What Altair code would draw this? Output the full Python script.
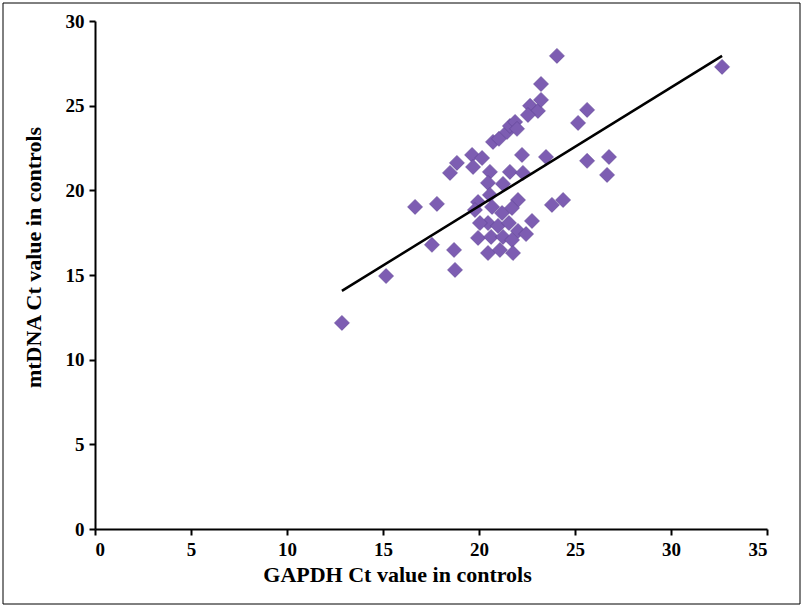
import altair as alt
import pandas as pd

gapdh_ct = [12.86, 15.16, 16.67, 17.81, 17.55, 18.70, 18.75, 18.49, 18.85, 19.64,
            19.69, 20.16, 20.73, 21.04, 21.46, 21.61, 21.88, 21.98, 22.66, 23.07,
            22.55, 23.23, 23.23, 24.06, 25.63, 25.16, 22.24, 23.49, 25.63, 26.77,
            26.67, 20.57, 21.61, 22.29, 20.47, 21.25, 20.57, 19.95, 19.79, 20.68,
            22.03, 23.80, 24.38, 21.20, 21.72, 22.76, 20.47, 20.99, 21.56, 22.03,
            22.45, 19.95, 20.63, 21.25, 21.72, 20.47, 21.09, 21.77, 32.66, 20.05]
mtdna_ct = [12.17, 14.94, 19.02, 19.20, 16.78, 16.48, 15.30, 21.03, 21.62, 22.09,
            21.38, 21.91, 22.86, 23.04, 23.45, 23.80, 24.04, 23.63, 24.99, 24.69,
            24.45, 25.34, 26.28, 27.94, 24.75, 23.98, 22.09, 21.97, 21.74, 21.97,
            20.91, 21.09, 21.09, 21.03, 20.44, 20.38, 19.73, 19.31, 18.84, 19.02,
            19.43, 19.14, 19.43, 18.66, 18.96, 18.19, 18.07, 17.90, 18.07, 17.60,
            17.42, 17.19, 17.25, 17.25, 17.07, 16.30, 16.48, 16.30, 27.29, 18.07]

trend_x = [12.86, 32.66]
trend_y = [14.06, 27.94]

x_ticks = [0, 5, 10, 15, 20, 25, 30, 35]
y_ticks = [0, 5, 10, 15, 20, 25, 30]

pts = pd.DataFrame({"gapdh": gapdh_ct, "mtdna": mtdna_ct})
trend = pd.DataFrame({"gapdh": trend_x, "mtdna": trend_y})

FONT = "Liberation Serif"

x_enc = alt.X("gapdh:Q",
              scale=alt.Scale(domain=[0, 35], nice=False, zero=False),
              axis=alt.Axis(values=x_ticks, title="GAPDH Ct value in controls",
                            titleX=302, titlePadding=5, labelPadding=5))
y_enc = alt.Y("mtdna:Q",
              scale=alt.Scale(domain=[0, 30], nice=False, zero=False),
              axis=alt.Axis(values=y_ticks, title="mtDNA Ct value in controls",
                            titlePadding=20, titleY=236, labelPadding=5))

points = alt.Chart(pts).mark_point(
    shape="diamond", filled=True, size=225, fill="#7D5DB2", stroke="#5E4394",
    strokeWidth=0.6, opacity=1
).encode(x=x_enc, y=y_enc)

line = alt.Chart(trend).mark_line(color="black", strokeWidth=2.5).encode(
    x="gapdh:Q", y="mtdna:Q")

border = alt.Chart(pd.DataFrame({"a": [0]})).mark_rect(
    filled=False, stroke="black", strokeWidth=1
).encode(x=alt.value(-92), x2=alt.value(705), y=alt.value(-18), y2=alt.value(583))

chart = alt.layer(border, points, line).properties(
    width=672, height=508,
    autosize=alt.AutoSizeParams(type="none"),
    padding={"left": 95, "top": 21, "right": 37, "bottom": 78},
    background="white"
).configure_view(stroke=None).configure_axis(
    grid=False,
    domainColor="black", domainWidth=2,
    tickColor="black", tickWidth=2, tickSize=6,
    labelFont=FONT, labelFontWeight="bold", labelFontSize=19, labelColor="black",
    titleFont=FONT, titleFontWeight="bold", titleFontSize=22, titleColor="black"
)

chart.save("out.html", embed_options={"renderer": "svg", "actions": False})
